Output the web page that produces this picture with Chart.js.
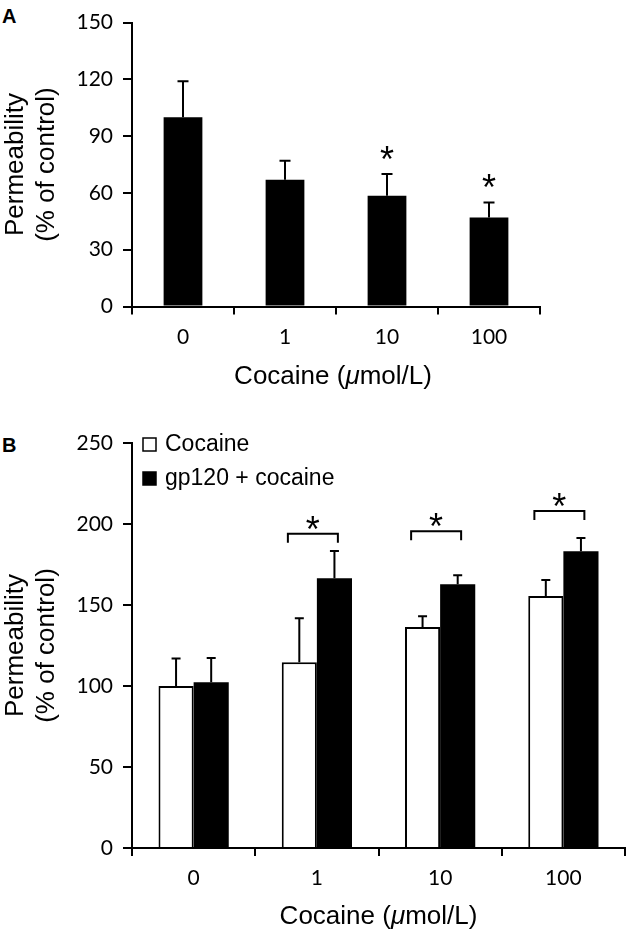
<!DOCTYPE html>
<html>
<head>
<meta charset="utf-8">
<script src="https://cdn.jsdelivr.net/npm/chart.js@4.4.0/dist/chart.umd.min.js"></script>
<style>
  body { margin: 0; background: #fff; width: 628px; height: 933px; position: relative; overflow: hidden; }
  canvas { position: absolute; left: 0; }
  #chartA { top: 0; }
  #chartB { top: 420px; }
  .panel { position: absolute; left: 2px; font: bold 20px "Liberation Sans", Arial, sans-serif; color: #000; }
</style>
</head>
<body>
<div class="panel" style="top:5px">A</div>
<div class="panel" style="top:434px">B</div>
<canvas id="chartA" width="628" height="400"></canvas>
<canvas id="chartB" width="628" height="513"></canvas>
<script>
// x categories (cocaine, µmol/L)
const doses = ['0', '1', '10', '100'];
const xTitleText = ['Cocaine (', 'μ', 'mol/L)'];
const yTitleText = ['Permeability', '(% of control)'];

// panel A
const permA = [100, 67, 58.5, 47];
const errA = [19, 10, 11.5, 8];
const starA = [false, false, true, true];

// panel B
const cocaineB = [100, 114.6, 136.4, 155.6];
const cocaineErrB = [17, 27.2, 6.6, 9.8];
const gp120B = [102.3, 166.5, 162.8, 183.2];
const gp120ErrB = [15, 16.8, 5.5, 8.2];
const bracketB = [null, 194, 195.5, 208];

const labelFont = "'Liberation Sans', Arial, sans-serif";
const tickFont = { family: "Lato, 'Liberation Sans', sans-serif", size: 21 };

// upward error bars (+ optional asterisk above)
const errorBars = {
	id: 'errorBars',
	afterDatasetsDraw(chart, args, opts) {
		let ctx = chart.ctx;
		let y = chart.scales.y;
		ctx.save();
		ctx.strokeStyle = '#000';
		ctx.fillStyle = '#000';
		ctx.lineWidth = 2;
		chart.data.datasets.forEach((ds, i) => {
			let meta = chart.getDatasetMeta(i);
			meta.data.forEach((bar, j) => {
				let top = y.getPixelForValue(ds.data[j] + ds.errors[j]);
				ctx.beginPath();
				ctx.moveTo(bar.x, bar.y);
				ctx.lineTo(bar.x, top);
				ctx.moveTo(bar.x - opts.cap / 2, top);
				ctx.lineTo(bar.x + opts.cap / 2, top);
				ctx.stroke();
				if (ds.stars && ds.stars[j]) {
					ctx.font = '36px ' + labelFont;
					ctx.textAlign = 'center';
					ctx.textBaseline = 'alphabetic';
					ctx.fillText('*', bar.x, top - 2);
				}
			});
		});
		ctx.restore();
	}
};

// x title with italic mu
const xTitle = {
	id: 'xTitle',
	afterDraw(chart, args, opts) {
		let ctx = chart.ctx;
		let area = chart.chartArea;
		ctx.save();
		ctx.fillStyle = '#000';
		ctx.textBaseline = 'middle';
		ctx.textAlign = 'left';
		let fonts = xTitleText.map((t, i) => (i === 1 ? 'italic ' : '') + '26px ' + labelFont);
		let total = 0;
		xTitleText.forEach((t, i) => { ctx.font = fonts[i]; total += ctx.measureText(t).width; });
		let x = (area.left + area.right) / 2 - total / 2 + opts.shift;
		let yPos = area.bottom + opts.offset;
		xTitleText.forEach((t, i) => {
			ctx.font = fonts[i];
			ctx.fillText(t, x, yPos);
			x += ctx.measureText(t).width;
		});
		ctx.restore();
	}
};

// significance brackets for panel B
const brackets = {
	id: 'brackets',
	afterDatasetsDraw(chart, args, opts) {
		let ctx = chart.ctx;
		let xs = chart.scales.x, ys = chart.scales.y;
		ctx.save();
		ctx.strokeStyle = '#000';
		ctx.fillStyle = '#000';
		ctx.lineWidth = 2;
		opts.levels.forEach((v, i) => {
			if (v == null) return;
			let cx = xs.getPixelForValue(i);
			let yy = ys.getPixelForValue(v);
			let l = cx - 29, r = cx + 21;
			ctx.beginPath();
			ctx.moveTo(l, yy + 9);
			ctx.lineTo(l, yy);
			ctx.lineTo(r, yy);
			ctx.lineTo(r, yy + 9);
			ctx.stroke();
			ctx.font = '36px ' + labelFont;
			ctx.textAlign = 'center';
			ctx.textBaseline = 'alphabetic';
			ctx.fillText('*', (l + r) / 2, yy + 8);
		});
		ctx.restore();
	}
};

// legend in the top-left corner of the plot
const boxLegend = {
	id: 'boxLegend',
	afterDraw(chart) {
		let ctx = chart.ctx;
		let area = chart.chartArea;
		ctx.save();
		chart.data.datasets.forEach((ds, i) => {
			let cy = area.top + 1.5 + i * 34;
			let bx = area.left + 11;
			ctx.fillStyle = ds.backgroundColor;
			ctx.fillRect(bx, cy - 6.5, 13, 13);
			ctx.strokeStyle = '#000';
			ctx.lineWidth = 1.5;
			ctx.strokeRect(bx, cy - 6.5, 13, 13);
			ctx.fillStyle = '#000';
			ctx.font = '23px ' + labelFont;
			ctx.textAlign = 'left';
			ctx.textBaseline = 'middle';
			ctx.fillText(ds.label, bx + 22, cy);
		});
		ctx.restore();
	}
};

function makeScales(max, step, xHeight) {
	return {
		x: {
			grid: { drawOnChartArea: false, offset: true, tickLength: 8, lineWidth: 2, color: '#000' },
			border: { color: '#000', width: 2 },
			ticks: { color: '#000', font: tickFont, padding: 10 },
			afterFit: s => { s.height = xHeight; }
		},
		y: {
			min: 0,
			max: max,
			grid: { drawOnChartArea: false, tickLength: 9, lineWidth: 2, color: '#000' },
			border: { color: '#000', width: 2 },
			ticks: { color: '#000', font: tickFont, padding: 10, stepSize: step },
			title: {
				display: true,
				text: yTitleText,
				color: '#000',
				font: { family: labelFont, size: 26, lineHeight: 1.2 },
				padding: { top: 0, bottom: 0 }
			},
			afterFit: s => { s.width = 132; }
		}
	};
}

let chartA = new Chart(document.getElementById('chartA'), {
	type: 'bar',
	data: {
		labels: doses,
		datasets: [{
			data: permA,
			errors: errA,
			stars: starA,
			backgroundColor: '#000',
			categoryPercentage: 0.38,
			barPercentage: 1
		}]
	},
	options: {
		responsive: false,
		animation: false,
		layout: { autoPadding: false, padding: { top: 14, right: 88, left: 0, bottom: 0 } },
		plugins: {
			legend: { display: false },
			tooltip: { enabled: false },
			errorBars: { cap: 11 },
			xTitle: { offset: 70, shift: -3 }
		},
		scales: makeScales(150, 30, 93.5)
	},
	plugins: [errorBars, xTitle]
});

let chartB = new Chart(document.getElementById('chartB'), {
	type: 'bar',
	data: {
		labels: doses,
		datasets: [{
			label: 'Cocaine',
			data: cocaineB,
			errors: cocaineErrB,
			backgroundColor: '#fff',
			borderColor: '#000',
			borderWidth: 2,
			categoryPercentage: 0.57,
			barPercentage: 1
		}, {
			label: 'gp120 + cocaine',
			data: gp120B,
			errors: gp120ErrB,
			backgroundColor: '#000',
			borderWidth: 0,
			categoryPercentage: 0.57,
			barPercentage: 1
		}]
	},
	options: {
		responsive: false,
		animation: false,
		layout: { autoPadding: false, padding: { top: 23, right: 3, left: 0, bottom: 0 } },
		plugins: {
			legend: { display: false },
			tooltip: { enabled: false },
			errorBars: { cap: 9 },
			brackets: { levels: bracketB },
			xTitle: { offset: 69, shift: 0 }
		},
		scales: makeScales(250, 50, 85)
	},
	plugins: [errorBars, brackets, boxLegend, xTitle]
});
</script>
</body>
</html>
